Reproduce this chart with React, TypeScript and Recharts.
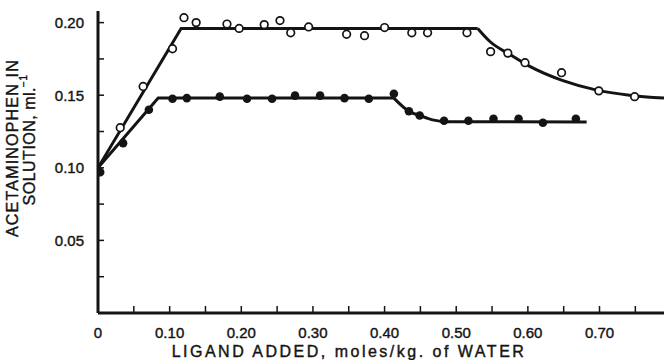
import React from 'react';
import { ComposedChart, XAxis, YAxis, Line, Scatter } from 'recharts';

// open circles (upper series)
const openPoints = [
  { x: 0.031, y: 0.1276 },
  { x: 0.063, y: 0.156 },
  { x: 0.104, y: 0.182 },
  { x: 0.12, y: 0.2034 },
  { x: 0.137, y: 0.2 },
  { x: 0.18, y: 0.199 },
  { x: 0.197, y: 0.196 },
  { x: 0.232, y: 0.1986 },
  { x: 0.254, y: 0.2014 },
  { x: 0.269, y: 0.193 },
  { x: 0.294, y: 0.197 },
  { x: 0.347, y: 0.192 },
  { x: 0.372, y: 0.191 },
  { x: 0.4, y: 0.1966 },
  { x: 0.438, y: 0.193 },
  { x: 0.46, y: 0.193 },
  { x: 0.515, y: 0.193 },
  { x: 0.548, y: 0.18 },
  { x: 0.572, y: 0.179 },
  { x: 0.596, y: 0.1724 },
  { x: 0.647, y: 0.1655 },
  { x: 0.699, y: 0.153 },
  { x: 0.749, y: 0.149 },
];

// filled circles (lower series)
const filledPoints = [
  { x: 0.003, y: 0.097 },
  { x: 0.035, y: 0.117 },
  { x: 0.071, y: 0.14 },
  { x: 0.104, y: 0.1476 },
  { x: 0.124, y: 0.148 },
  { x: 0.17, y: 0.149 },
  { x: 0.208, y: 0.1476 },
  { x: 0.243, y: 0.1476 },
  { x: 0.275, y: 0.1497 },
  { x: 0.31, y: 0.1497 },
  { x: 0.344, y: 0.148 },
  { x: 0.378, y: 0.1476 },
  { x: 0.413, y: 0.151 },
  { x: 0.434, y: 0.139 },
  { x: 0.449, y: 0.136 },
  { x: 0.483, y: 0.1324 },
  { x: 0.517, y: 0.1324 },
  { x: 0.552, y: 0.1338 },
  { x: 0.587, y: 0.1338 },
  { x: 0.621, y: 0.131 },
  { x: 0.667, y: 0.1338 },
];

// hand-drawn fit lines
const openFit = [
  { x: 0, y: 0.1 },
  { x: 0.116, y: 0.196 },
  { x: 0.53, y: 0.196 },
];
const openFitTail = [
  { x: 0.53, y: 0.196 },
  { x: 0.547, y: 0.187 },
  { x: 0.575, y: 0.178 },
  { x: 0.602, y: 0.17 },
  { x: 0.649, y: 0.16 },
  { x: 0.696, y: 0.1535 },
  { x: 0.742, y: 0.15 },
  { x: 0.79, y: 0.148 },
];
const filledFit = [
  { x: 0, y: 0.1 },
  { x: 0.084, y: 0.148 },
  { x: 0.413, y: 0.148 },
];
const filledFitTail = [
  { x: 0.413, y: 0.148 },
  { x: 0.435, y: 0.1386 },
  { x: 0.449, y: 0.136 },
  { x: 0.467, y: 0.133 },
  { x: 0.485, y: 0.1318 },
  { x: 0.682, y: 0.1315 },
];

const xTicks = [0, 0.05, 0.1, 0.15, 0.2, 0.25, 0.3, 0.35, 0.4, 0.45, 0.5, 0.55, 0.6, 0.65, 0.7, 0.75];
const xLabels = [0, 0.1, 0.2, 0.3, 0.4, 0.5, 0.6, 0.7];
const yTicks = [0, 0.025, 0.05, 0.075, 0.1, 0.125, 0.15, 0.175, 0.2];
const yLabels = [0.05, 0.1, 0.15, 0.2];

const INK = '#141414';
const FONT = '"Liberation Sans", Arial, Helvetica, sans-serif';
// the scanned lettering is a little heavier than a regular face
const heavy = { stroke: INK, strokeWidth: 0.4 };

const has = (list: number[], v: number) => list.some((t) => Math.abs(t - v) < 1e-6);

function YTick(props: any) {
  const { x, y, payload } = props;
  const v = payload.value;
  return (
    <g>
      {v > 0 && <line x1={x} x2={x + 6} y1={y} y2={y} stroke={INK} strokeWidth={1.5} />}
      {has(yLabels, v) && (
        <text x={x - 14} y={y} textAnchor="end" dominantBaseline="central" fontSize={15} fontFamily={FONT} fill={INK} {...heavy}>
          {v.toFixed(2)}
        </text>
      )}
    </g>
  );
}

function XTick(props: any) {
  const { x, y, payload } = props;
  const v = payload.value;
  return (
    <g>
      {v > 0 && <line x1={x} x2={x} y1={y} y2={y - 7} stroke={INK} strokeWidth={1.5} />}
      {has(xLabels, v) && (
        <text x={x} y={y + 19} textAnchor="middle" dominantBaseline="central" fontSize={15} fontFamily={FONT} fill={INK} {...heavy}>
          {v === 0 ? '0' : v.toFixed(2)}
        </text>
      )}
    </g>
  );
}

const OpenDot = (p: any) => <circle cx={p.cx} cy={p.cy} r={3.8} fill="#fff" stroke={INK} strokeWidth={1.7} />;
const FilledDot = (p: any) => <circle cx={p.cx} cy={p.cy} r={4.3} fill={INK} />;

export default function App() {
  return (
    <div style={{ position: 'absolute', left: 0, top: 0, width: 667, height: 360, background: '#fff' }}>
      <ComposedChart width={667} height={360} margin={{ top: 11, right: 3, bottom: 0, left: 0 }}>
        <XAxis
          type="number"
          dataKey="x"
          domain={[0, 0.79]}
          ticks={xTicks}
          interval={0}
          tickSize={0}
          tickMargin={0}
          height={47}
          allowDataOverflow
          axisLine={{ stroke: INK, strokeWidth: 3 }}
          tickLine={false}
          tick={<XTick />}
        />
        <YAxis
          type="number"
          dataKey="y"
          domain={[0, 0.208]}
          ticks={yTicks}
          interval={0}
          tickSize={0}
          tickMargin={0}
          width={98}
          allowDataOverflow
          axisLine={{ stroke: INK, strokeWidth: 3 }}
          tickLine={false}
          tick={<YTick />}
        />
        <Line data={openFit} dataKey="y" type="linear" stroke={INK} strokeWidth={3} dot={false} isAnimationActive={false} />
        <Line data={openFitTail} dataKey="y" type="monotone" stroke={INK} strokeWidth={3} dot={false} isAnimationActive={false} />
        <Line data={filledFit} dataKey="y" type="linear" stroke={INK} strokeWidth={3} dot={false} isAnimationActive={false} />
        <Line data={filledFitTail} dataKey="y" type="monotone" stroke={INK} strokeWidth={3} dot={false} isAnimationActive={false} />
        <Scatter data={openPoints} dataKey="y" shape={OpenDot} isAnimationActive={false} />
        <Scatter data={filledPoints} dataKey="y" shape={FilledDot} isAnimationActive={false} />
      </ComposedChart>
      <svg width={667} height={360} style={{ position: 'absolute', left: 0, top: 0, pointerEvents: 'none' }}>
        <text
          transform="translate(12,148) rotate(-90)"
          textAnchor="middle"
          dominantBaseline="central"
          fontSize={16}
          letterSpacing={1.2}
          fontFamily={FONT}
          fill={INK}
          {...heavy}
        >
          ACETAMINOPHEN IN
        </text>
        <text
          transform="translate(29,140) rotate(-90)"
          textAnchor="middle"
          dominantBaseline="central"
          fontSize={16}
          letterSpacing={0.5}
          fontFamily={FONT}
          fill={INK}
          {...heavy}
        >
          SOLUTION, ml.
          <tspan fontSize={10} dy={-6}>−1</tspan>
        </text>
        <text
          x={349}
          y={351}
          textAnchor="middle"
          dominantBaseline="central"
          fontSize={16}
          letterSpacing={2.5}
          fontFamily={FONT}
          fill={INK}
          {...heavy}
        >
          LIGAND ADDED, moles/kg. of WATER
        </text>
      </svg>
    </div>
  );
}
